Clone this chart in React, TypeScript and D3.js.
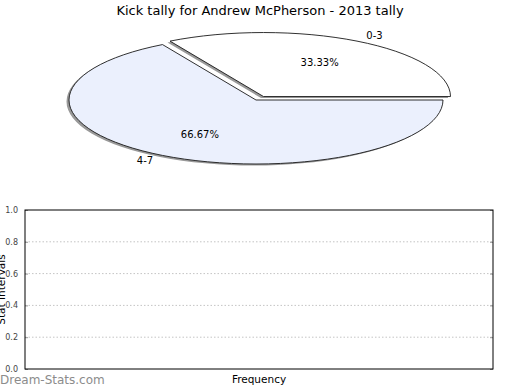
import React, { useEffect, useRef } from "react";
import * as d3 from "d3";

// pie data
const categories = ["0-3", "4-7"];
const tallies = [1, 2];
const sliceColors = ["#ffffff", "#ebf0fd"];
const explode = [true, false];

// empty bar chart axis
const yTicks = [0, 0.2, 0.4, 0.6, 0.8, 1.0];

const W = 520;
const H = 390;

function App() {
  const svgRef = useRef<SVGSVGElement>(null);

  useEffect(() => {
    const svg = d3.select(svgRef.current);
    svg.selectAll("*").remove();
    const font = "DejaVu Sans, sans-serif";

    svg
      .append("text")
      .attr("x", 260)
      .attr("y", 15)
      .attr("text-anchor", "middle")
      .attr("font-family", font)
      .attr("font-size", 13)
      .attr("fill", "#000")
      .text("Kick tally for Andrew McPherson - 2013 tally");

    // --- pie (elliptical) ---
    const cx = 256;
    const cy = 100;
    const rx = 187;
    const ry = 64;
    const total = d3.sum(tallies);

    // start at 3 o'clock, run counter-clockwise
    const pie = d3
      .pie<number>()
      .sort(null)
      .startAngle(Math.PI / 2)
      .endAngle(Math.PI / 2 - 2 * Math.PI);
    const arcs = pie(tallies);

    const slices = arcs.map((a, i) => {
      const t0 = Math.PI / 2 - a.startAngle;
      const t1 = Math.PI / 2 - a.endAngle;
      const mid = (t0 + t1) / 2;
      const ox = explode[i] ? 15 * Math.cos(mid) : 0;
      const oy = explode[i] ? -4 * Math.sin(mid) : 0;
      const scx = cx + ox;
      const scy = cy + oy;
      const p = d3.path();
      p.moveTo(scx, scy);
      p.lineTo(scx + rx * Math.cos(t0), scy - ry * Math.sin(t0));
      const large = t1 - t0 > Math.PI ? 1 : 0;
      const ex = scx + rx * Math.cos(t1);
      const ey = scy - ry * Math.sin(t1);
      const d = p.toString() + `A${rx},${ry} 0 ${large} 0 ${ex},${ey}Z`;
      return { d, mid, scx, scy, i };
    });

    const pieG = svg.append("g");
    pieG
      .selectAll("path.shadow")
      .data(slices)
      .join("path")
      .attr("class", "shadow")
      .attr("d", (s) => s.d)
      .attr("transform", "translate(-2.5,1.5)")
      .attr("fill", "#999");

    pieG
      .selectAll("path.slice")
      .data(slices)
      .join("path")
      .attr("class", "slice")
      .attr("d", (s) => s.d)
      .attr("fill", (s) => sliceColors[s.i])
      .attr("stroke", "#1a1a1a")
      .attr("stroke-width", 0.9);

    // percentage labels
    pieG
      .selectAll("text.pct")
      .data(slices)
      .join("text")
      .attr("class", "pct")
      .attr("x", (s) => s.scx + 0.6 * rx * Math.cos(s.mid))
      .attr("y", (s) => s.scy - 0.62 * ry * Math.sin(s.mid))
      .attr("dy", "0.35em")
      .attr("text-anchor", "middle")
      .attr("font-family", font)
      .attr("font-size", 10)
      .text((s) => ((tallies[s.i] / total) * 100).toFixed(2) + "%");

    // category labels
    pieG
      .selectAll("text.cat")
      .data(slices)
      .join("text")
      .attr("class", "cat")
      .attr("x", (s) => s.scx + 1.187 * rx * Math.cos(s.mid))
      .attr("y", (s) => s.scy - 1.1 * ry * Math.sin(s.mid))
      .attr("dy", "0.35em")
      .attr("text-anchor", "middle")
      .attr("font-family", font)
      .attr("font-size", 10)
      .text((s) => categories[s.i]);

    // --- empty chart ---
    const left = 25;
    const right = 493;
    const top = 210;
    const bottom = 369;

    const yScale = d3.scaleLinear().domain([0, 1]).range([bottom, top]);

    svg
      .append("g")
      .selectAll("line")
      .data(yTicks.filter((t) => t > 0 && t < 1))
      .join("line")
      .attr("x1", left)
      .attr("x2", right)
      .attr("y1", (t) => yScale(t))
      .attr("y2", (t) => yScale(t))
      .attr("stroke", "#c4c4c4")
      .attr("stroke-width", 1)
      .attr("stroke-dasharray", "1.5,2");

    const yAxis = d3
      .axisLeft(yScale)
      .tickValues(yTicks)
      .tickFormat(d3.format(".1f"))
      .tickSize(-3)
      .tickPadding(7)
      .tickSizeOuter(0);
    const ax = svg
      .append("g")
      .attr("transform", `translate(${left},0)`)
      .call(yAxis);
    ax.select(".domain").remove();
    ax.selectAll("line").attr("stroke", "#999");
    ax.selectAll("text")
      .attr("font-family", font)
      .attr("font-size", 8)
      .attr("fill", "#444");

    const yAxisR = d3
      .axisRight(yScale)
      .tickValues(yTicks)
      .tickSize(-3)
      .tickFormat(() => "");
    const axR = svg
      .append("g")
      .attr("transform", `translate(${right},0)`)
      .call(yAxisR);
    axR.select(".domain").remove();
    axR.selectAll("line").attr("stroke", "#999");

    svg
      .append("rect")
      .attr("x", left)
      .attr("y", top)
      .attr("width", right - left)
      .attr("height", bottom - top)
      .attr("fill", "none")
      .attr("stroke", "#000")
      .attr("stroke-width", 1);

    svg
      .append("text")
      .attr("transform", `translate(5,${(top + bottom) / 2}) rotate(-90)`)
      .attr("text-anchor", "middle")
      .attr("font-family", font)
      .attr("font-size", 10.5)
      .text("Stat Intervals");

    svg
      .append("text")
      .attr("x", (left + right) / 2)
      .attr("y", 383)
      .attr("text-anchor", "middle")
      .attr("font-family", font)
      .attr("font-size", 10.5)
      .text("Frequency");

    svg
      .append("text")
      .attr("x", 0)
      .attr("y", 384)
      .attr("font-family", font)
      .attr("font-size", 12)
      .attr("fill", "#8c8c8c")
      .text("Dream-Stats.com");
  }, []);

  return (
    <svg
      ref={svgRef}
      width={W}
      height={H}
      style={{ position: "absolute", left: 0, top: 0, background: "#fff" }}
    />
  );
}

export default App;
